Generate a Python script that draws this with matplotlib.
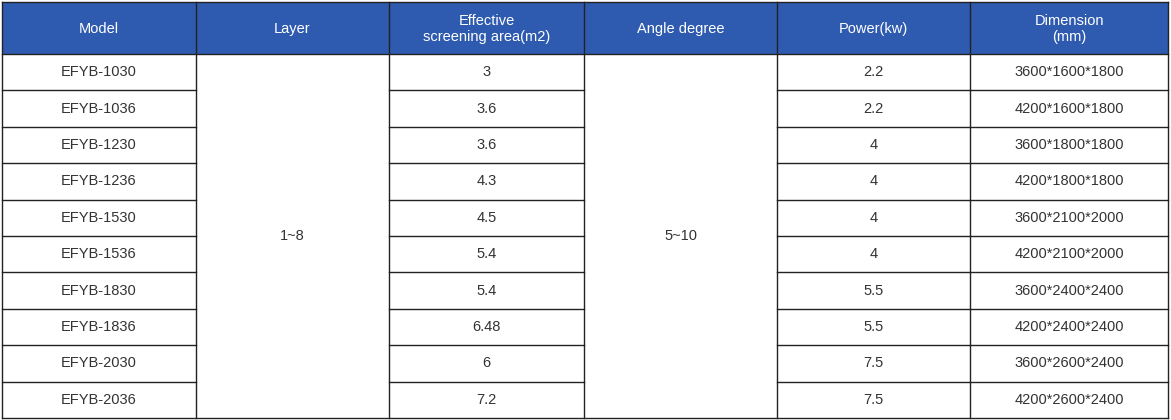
import matplotlib
matplotlib.use("Agg")
import matplotlib.pyplot as plt
from matplotlib.patches import Rectangle

headers = ["Model", "Layer", "Effective\nscreening area(m2)", "Angle degree", "Power(kw)", "Dimension\n(mm)"]
models = ["EFYB-1030", "EFYB-1036", "EFYB-1230", "EFYB-1236", "EFYB-1530",
          "EFYB-1536", "EFYB-1830", "EFYB-1836", "EFYB-2030", "EFYB-2036"]
layer = "1~8"
area = ["3", "3.6", "3.6", "4.3", "4.5", "5.4", "5.4", "6.48", "6", "7.2"]
angle = "5~10"
power = ["2.2", "2.2", "4", "4", "4", "4", "5.5", "5.5", "7.5", "7.5"]
dimension = ["3600*1600*1800", "4200*1600*1800", "3600*1800*1800", "4200*1800*1800",
             "3600*2100*2000", "4200*2100*2000", "3600*2400*2400", "4200*2400*2400",
             "3600*2600*2400", "4200*2600*2400"]

plt.rcParams['font.family'] = ['Liberation Sans', 'DejaVu Sans']
fig = plt.figure(figsize=(11.71, 4.2), dpi=100)
ax = fig.add_axes([0, 0, 1, 1])
ax.set_xlim(0, 1171)
ax.set_ylim(420, 0)
ax.axis('off')

xs = [2, 196, 389, 584, 777, 970, 1168]
y0, yh = 2, 54
n = len(models)
rh = (418 - yh) / n
ys = [yh + i * rh for i in range(n + 1)]
blue = "#2e5bb0"
lc = "#222222"
fs = 10.5

ax.add_patch(Rectangle((xs[0], y0), xs[-1] - xs[0], yh - y0, facecolor=blue, edgecolor='none'))
for j, h in enumerate(headers):
    ax.text((xs[j] + xs[j + 1]) / 2, (y0 + yh) / 2 + 1, h, color='white', ha='center', va='center',
            fontsize=fs, linespacing=1.15)

cols = [models, None, area, None, power, dimension]
for j, col in enumerate(cols):
    cx = (xs[j] + xs[j + 1]) / 2
    if col is None:
        ax.text(cx, (ys[0] + ys[-1]) / 2, layer if j == 1 else angle, ha='center', va='center',
                fontsize=fs, color='#333333')
    else:
        for i, v in enumerate(col):
            ax.text(cx, (ys[i] + ys[i + 1]) / 2, v, ha='center', va='center', fontsize=fs, color='#333333')

# lines
lw = 1.0
for x in xs:
    ax.plot([x, x], [y0, ys[-1]], color=lc, lw=lw)
ax.plot([xs[0], xs[-1]], [y0, y0], color=lc, lw=lw)
ax.plot([xs[0], xs[-1]], [yh, yh], color=lc, lw=lw)
for y in ys[1:-1]:
    for j in [0, 2, 4, 5]:
        ax.plot([xs[j], xs[j + 1]], [y, y], color=lc, lw=lw)
ax.plot([xs[0], xs[-1]], [ys[-1], ys[-1]], color=lc, lw=lw)

fig.savefig("out.png", dpi=100)
